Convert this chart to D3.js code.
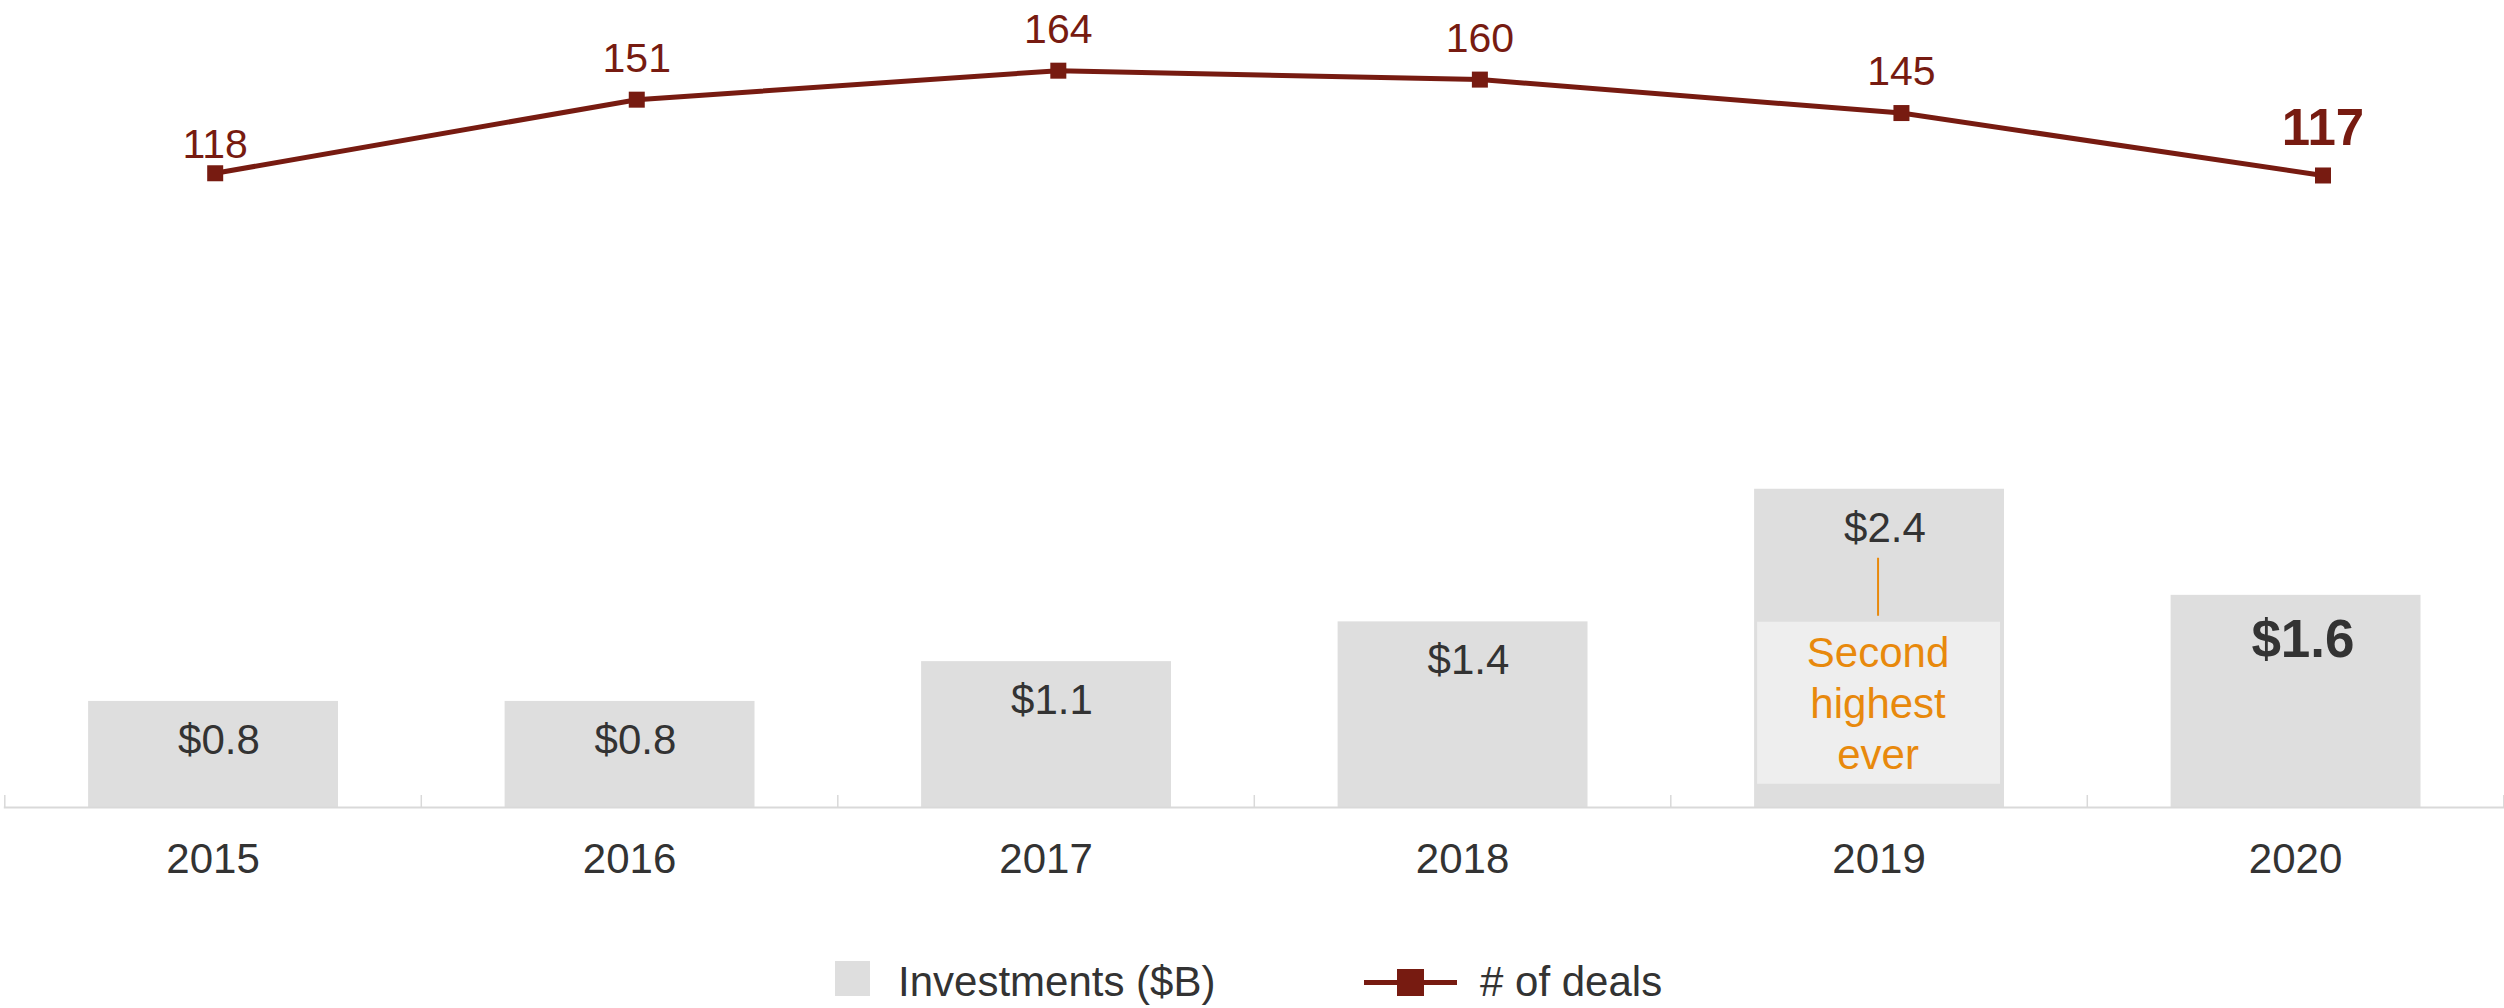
<!DOCTYPE html>
<html>
<head>
<meta charset="utf-8">
<script src="https://cdn.jsdelivr.net/npm/d3@7"></script>
<style>
  html, body { margin: 0; padding: 0; background: #fff; }
  svg { display: block; font-family: "Liberation Sans", Arial, sans-serif; }
</style>
</head>
<body>
<svg id="chart" width="2504" height="1008"></svg>
<script>
// Annual venture activity: investments (bars) and deal count (line)
const years = ["2015", "2016", "2017", "2018", "2019", "2020"];
const investments = [0.8, 0.8, 1.1, 1.4, 2.4, 1.6];
const investmentLabels = ["$0.8", "$0.8", "$1.1", "$1.4", "$2.4", "$1.6"];
const deals = [118, 151, 164, 160, 145, 117];
const legendLabels = ["Investments ($B)", "# of deals"];
const noteLines = ["Second", "highest", "ever"];

const W = 2504, H = 1008;
const baseY = 807;
const lastIdx = years.length - 1;
const noteIdx = 4;

const BAR = "#dedede", NOTE_BG = "#eeeeee", LINE = "#771b11",
      TEXT = "#333333", ORANGE = "#e8890c", AXIS = "#d9d9d9";

const svg = d3.select("#chart");

const x = d3.scaleBand()
  .domain(years)
  .range([4.8, 2503.8])
  .paddingInner(0.4)
  .paddingOuter(0.2);

// The deal line sits on its own, slightly wider horizontal axis
const xLine = d3.scalePoint().domain(years).range([215.2, 2323]);

const yBar = d3.scaleLinear().domain([0, 2.4]).range([baseY, baseY - 2.4 * 132.6]);
const yLine = d3.scaleLinear().domain([100, 170]).range([213.4, 57.3]);

// Bars
svg.append("g").selectAll("rect")
  .data(investments)
  .join("rect")
  .attr("x", (d, i) => x(years[i]))
  .attr("y", d => yBar(d))
  .attr("width", x.bandwidth())
  .attr("height", d => baseY - yBar(d))
  .attr("fill", BAR);

// Bar value labels
svg.append("g").selectAll("text")
  .data(investments)
  .join("text")
  .attr("x", (d, i) => x(years[i]) + x.bandwidth() / 2)
  .attr("y", (d, i) => yBar(d) + (i === lastIdx ? 62 : 53))
  .attr("dx", "0.14em")
  .attr("text-anchor", "middle")
  .attr("fill", TEXT)
  .attr("font-size", (d, i) => i === lastIdx ? 53 : 42)
  .attr("font-weight", (d, i) => i === lastIdx ? "bold" : "normal")
  .text((d, i) => investmentLabels[i]);

// Callout inside the 2019 bar
const nx = x(years[noteIdx]);
const ncx = nx + x.bandwidth() / 2;
const noteTop = yBar(investments[noteIdx]);
svg.append("rect")
  .attr("x", nx + 3)
  .attr("y", noteTop + 133)
  .attr("width", x.bandwidth() - 7)
  .attr("height", 162)
  .attr("fill", NOTE_BG);
svg.append("line")
  .attr("x1", ncx - 1).attr("x2", ncx - 1)
  .attr("y1", noteTop + 69).attr("y2", noteTop + 127)
  .attr("stroke", ORANGE).attr("stroke-width", 2);
svg.append("g").selectAll("text")
  .data(noteLines)
  .join("text")
  .attr("x", ncx - 1)
  .attr("y", (d, i) => noteTop + 178 + i * 51)
  .attr("text-anchor", "middle")
  .attr("fill", ORANGE)
  .attr("font-size", 42)
  .text(d => d);

// Category axis
const xAxis = svg.append("g")
  .attr("transform", `translate(0,${baseY})`)
  .call(d3.axisBottom(x).tickSize(0));
xAxis.select(".domain").remove();
xAxis.selectAll("text")
  .attr("y", 66)
  .attr("dy", null)
  .attr("fill", TEXT)
  .attr("font-size", 42)
  .attr("font-family", "Liberation Sans, Arial, sans-serif");

svg.append("line")
  .attr("x1", x.range()[0] - 1).attr("x2", W)
  .attr("y1", baseY + 0.5).attr("y2", baseY + 0.5)
  .attr("stroke", AXIS).attr("stroke-width", 2);

const bounds = d3.range(years.length + 1).map(k => x.range()[0] + k * x.step());
svg.append("g").selectAll("line")
  .data(bounds)
  .join("line")
  .attr("x1", d => d).attr("x2", d => d)
  .attr("y1", baseY).attr("y2", baseY - 12)
  .attr("stroke", AXIS).attr("stroke-width", 1.5);

// Deal count line
const pts = deals.map((d, i) => [xLine(years[i]), yLine(d)]);
svg.append("path")
  .attr("d", d3.line()(pts))
  .attr("fill", "none")
  .attr("stroke", LINE)
  .attr("stroke-width", 5);

svg.append("g").selectAll("rect")
  .data(pts)
  .join("rect")
  .attr("x", d => d[0] - 8)
  .attr("y", d => d[1] - 8)
  .attr("width", 16)
  .attr("height", 16)
  .attr("fill", LINE);

svg.append("g").selectAll("text")
  .data(deals)
  .join("text")
  .attr("x", (d, i) => pts[i][0])
  .attr("y", (d, i) => pts[i][1] - (i === 0 ? 15 : i === lastIdx ? 30 : 28))
  .attr("text-anchor", "middle")
  .attr("fill", LINE)
  .attr("font-size", (d, i) => i === lastIdx ? 51 : 41)
  .attr("font-weight", (d, i) => i === lastIdx ? "bold" : "normal")
  .text(d => d);

// Legend
const legend = svg.append("g");
legend.append("rect")
  .attr("x", 835).attr("y", 961)
  .attr("width", 35).attr("height", 35)
  .attr("fill", BAR);
legend.append("text")
  .attr("x", 898).attr("y", 996)
  .attr("fill", TEXT).attr("font-size", 42)
  .text(legendLabels[0]);
legend.append("line")
  .attr("x1", 1364).attr("x2", 1457)
  .attr("y1", 982.5).attr("y2", 982.5)
  .attr("stroke", LINE).attr("stroke-width", 5);
legend.append("rect")
  .attr("x", 1397).attr("y", 969)
  .attr("width", 27).attr("height", 27)
  .attr("fill", LINE);
legend.append("text")
  .attr("x", 1480).attr("y", 996)
  .attr("fill", TEXT).attr("font-size", 42)
  .text(legendLabels[1]);
</script>
</body>
</html>
